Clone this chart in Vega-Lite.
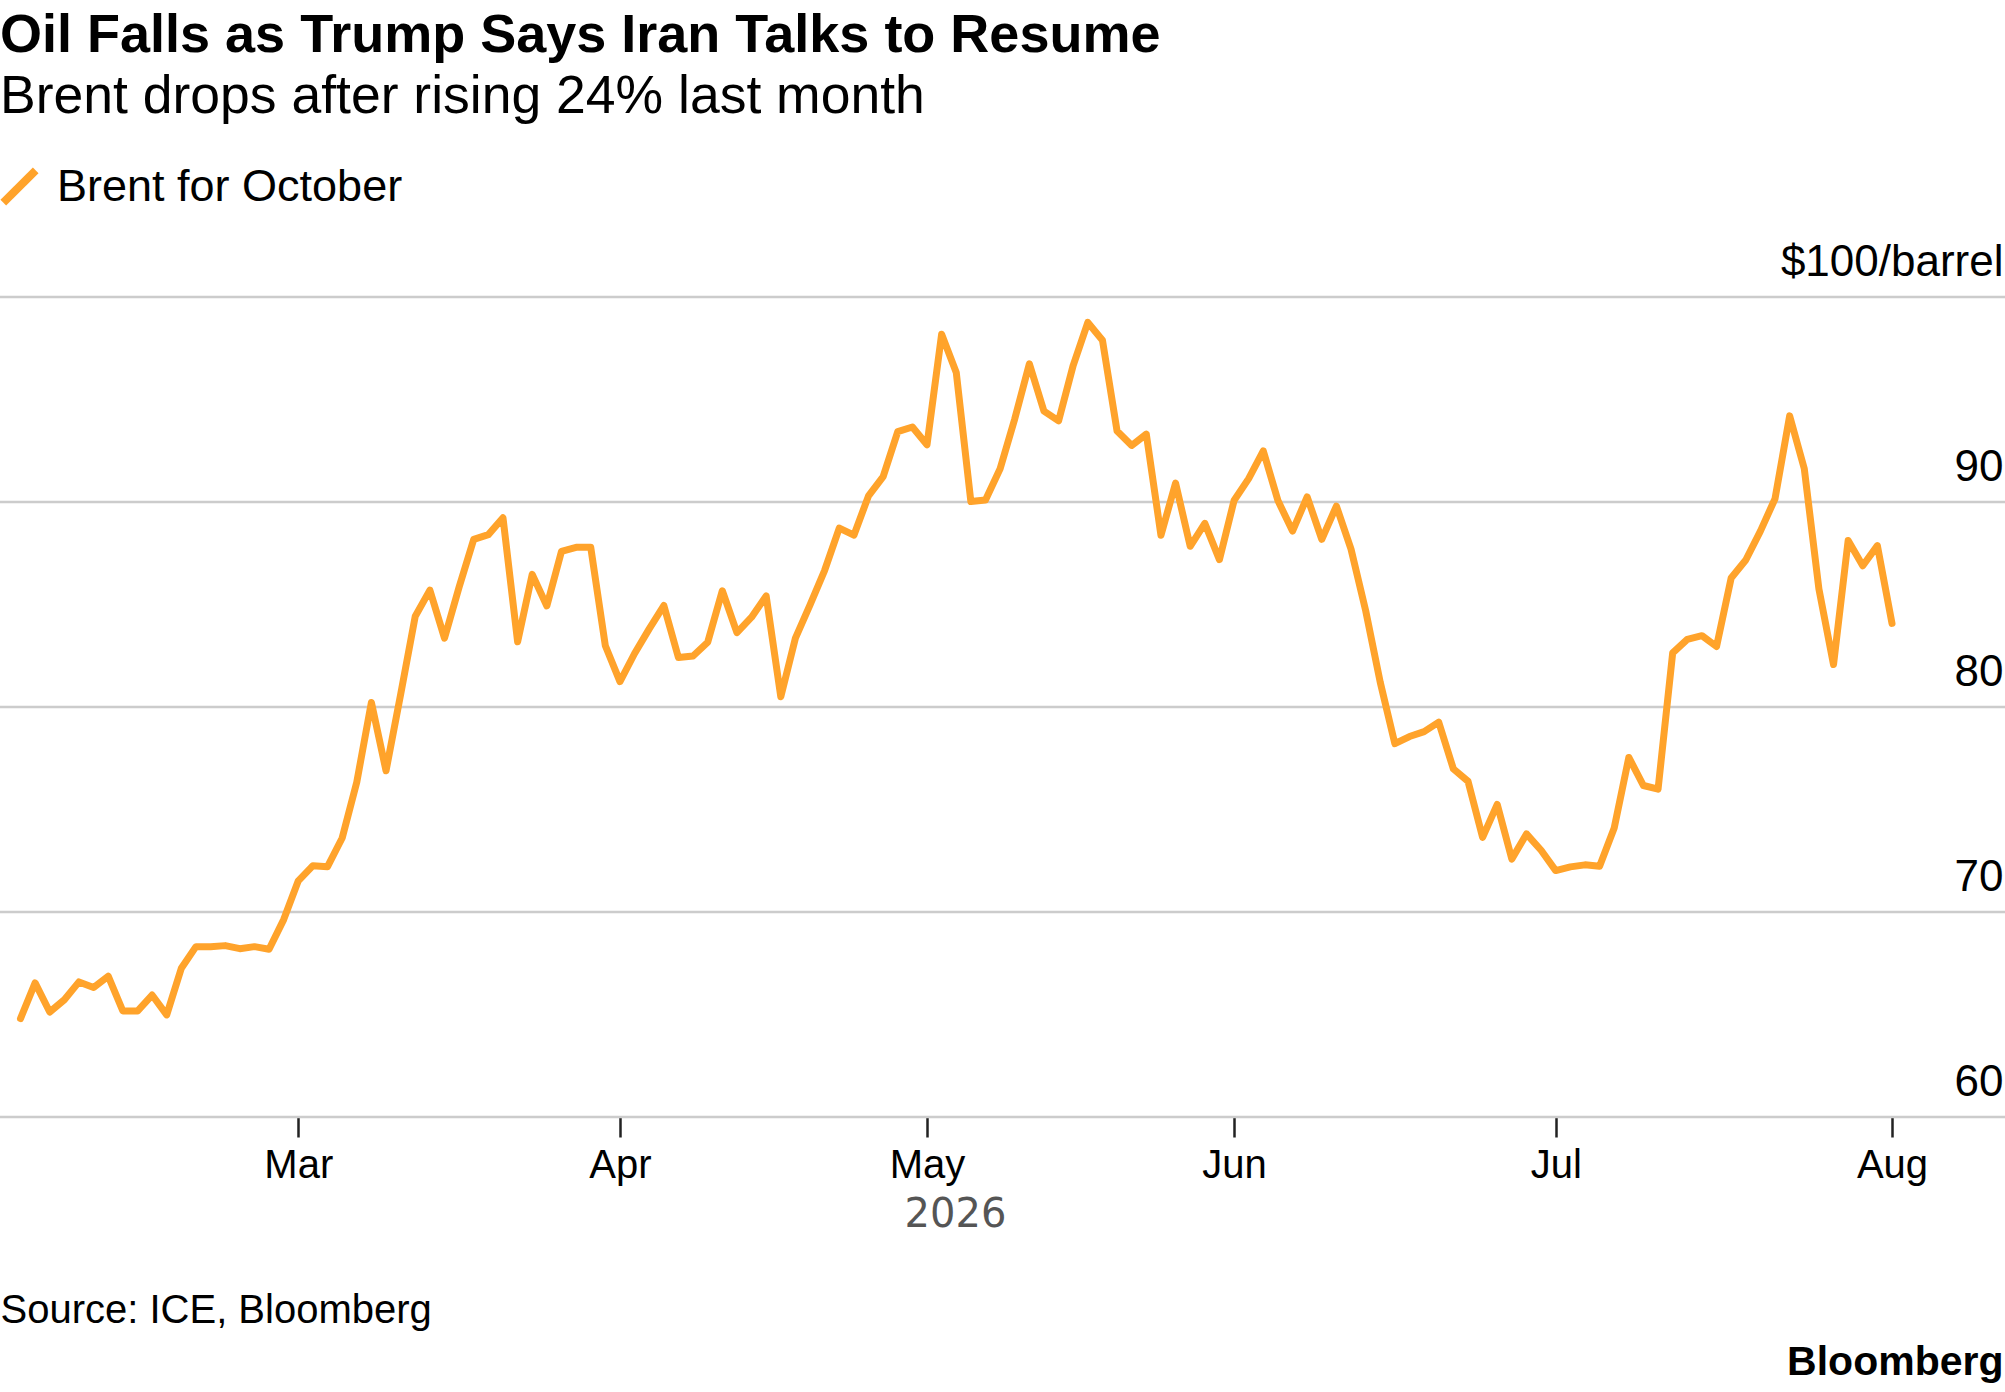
{
  "$schema": "https://vega.github.io/schema/vega-lite/v6.json",
  "description": "Brent for October, daily settlement",
  "width": 2005,
  "height": 820,
  "autosize": "none",
  "padding": {"left": 0, "right": 0, "top": 297, "bottom": 275},
  "background": "white",
  "title": {
    "text": "Oil Falls as Trump Says Iran Talks to Resume",
    "subtitle": "Brent drops after rising 24% last month",
    "anchor": "start",
    "frame": "group",
    "offset": 41,
    "font": "Liberation Sans",
    "fontSize": 54,
    "fontWeight": "bold",
    "color": "#000000",
    "subtitleFont": "Liberation Sans",
    "subtitleFontSize": 53.5,
    "subtitleColor": "#000000",
    "subtitlePadding": 8,
    "limit": 0
  },
  "data": {
    "values": [
      {"date": "2026-02-03", "price": 64.8},
      {"date": "2026-02-04", "price": 66.54},
      {"date": "2026-02-05", "price": 65.12},
      {"date": "2026-02-06", "price": 65.72},
      {"date": "2026-02-09", "price": 66.59},
      {"date": "2026-02-10", "price": 66.32},
      {"date": "2026-02-11", "price": 66.87},
      {"date": "2026-02-12", "price": 65.17},
      {"date": "2026-02-13", "price": 65.17},
      {"date": "2026-02-16", "price": 65.95},
      {"date": "2026-02-17", "price": 64.98},
      {"date": "2026-02-18", "price": 67.26},
      {"date": "2026-02-19", "price": 68.31},
      {"date": "2026-02-20", "price": 68.31},
      {"date": "2026-02-23", "price": 68.36},
      {"date": "2026-02-24", "price": 68.21},
      {"date": "2026-02-25", "price": 68.31},
      {"date": "2026-02-26", "price": 68.18},
      {"date": "2026-02-27", "price": 69.63},
      {"date": "2026-03-02", "price": 71.52},
      {"date": "2026-03-03", "price": 72.26},
      {"date": "2026-03-04", "price": 72.21},
      {"date": "2026-03-05", "price": 73.61},
      {"date": "2026-03-06", "price": 76.34},
      {"date": "2026-03-09", "price": 80.22},
      {"date": "2026-03-10", "price": 76.89},
      {"date": "2026-03-11", "price": 80.62},
      {"date": "2026-03-12", "price": 84.43},
      {"date": "2026-03-13", "price": 85.7},
      {"date": "2026-03-16", "price": 83.36},
      {"date": "2026-03-17", "price": 85.85},
      {"date": "2026-03-18", "price": 88.18},
      {"date": "2026-03-19", "price": 88.41},
      {"date": "2026-03-20", "price": 89.23},
      {"date": "2026-03-23", "price": 83.18},
      {"date": "2026-03-24", "price": 86.47},
      {"date": "2026-03-25", "price": 84.93},
      {"date": "2026-03-26", "price": 87.59},
      {"date": "2026-03-27", "price": 87.79},
      {"date": "2026-03-30", "price": 87.79},
      {"date": "2026-03-31", "price": 82.99},
      {"date": "2026-04-01", "price": 81.24},
      {"date": "2026-04-02", "price": 82.61},
      {"date": "2026-04-06", "price": 83.81},
      {"date": "2026-04-07", "price": 84.95},
      {"date": "2026-04-08", "price": 82.41},
      {"date": "2026-04-09", "price": 82.49},
      {"date": "2026-04-10", "price": 83.16},
      {"date": "2026-04-13", "price": 85.67},
      {"date": "2026-04-14", "price": 83.63},
      {"date": "2026-04-15", "price": 84.38},
      {"date": "2026-04-16", "price": 85.42},
      {"date": "2026-04-17", "price": 80.5},
      {"date": "2026-04-20", "price": 83.36},
      {"date": "2026-04-21", "price": 84.98},
      {"date": "2026-04-22", "price": 86.67},
      {"date": "2026-04-23", "price": 88.73},
      {"date": "2026-04-24", "price": 88.38},
      {"date": "2026-04-27", "price": 90.3},
      {"date": "2026-04-28", "price": 91.24},
      {"date": "2026-04-29", "price": 93.43},
      {"date": "2026-04-30", "price": 93.66},
      {"date": "2026-05-01", "price": 92.79},
      {"date": "2026-05-04", "price": 98.18},
      {"date": "2026-05-05", "price": 96.32},
      {"date": "2026-05-06", "price": 90.02},
      {"date": "2026-05-07", "price": 90.1},
      {"date": "2026-05-08", "price": 91.62},
      {"date": "2026-05-11", "price": 94.05},
      {"date": "2026-05-12", "price": 96.74},
      {"date": "2026-05-13", "price": 94.43},
      {"date": "2026-05-14", "price": 93.96},
      {"date": "2026-05-15", "price": 96.67},
      {"date": "2026-05-18", "price": 98.76},
      {"date": "2026-05-19", "price": 97.89},
      {"date": "2026-05-20", "price": 93.46},
      {"date": "2026-05-21", "price": 92.76},
      {"date": "2026-05-22", "price": 93.31},
      {"date": "2026-05-25", "price": 88.38},
      {"date": "2026-05-26", "price": 90.92},
      {"date": "2026-05-27", "price": 87.84},
      {"date": "2026-05-28", "price": 88.96},
      {"date": "2026-05-29", "price": 87.19},
      {"date": "2026-06-01", "price": 90.07},
      {"date": "2026-06-02", "price": 91.14},
      {"date": "2026-06-03", "price": 92.49},
      {"date": "2026-06-04", "price": 90.07},
      {"date": "2026-06-05", "price": 88.58},
      {"date": "2026-06-08", "price": 90.25},
      {"date": "2026-06-09", "price": 88.18},
      {"date": "2026-06-10", "price": 89.8},
      {"date": "2026-06-11", "price": 87.7},
      {"date": "2026-06-12", "price": 84.71},
      {"date": "2026-06-15", "price": 81.2},
      {"date": "2026-06-16", "price": 78.21},
      {"date": "2026-06-17", "price": 78.56},
      {"date": "2026-06-18", "price": 78.8},
      {"date": "2026-06-19", "price": 79.26},
      {"date": "2026-06-22", "price": 76.98},
      {"date": "2026-06-23", "price": 76.38},
      {"date": "2026-06-24", "price": 73.64},
      {"date": "2026-06-25", "price": 75.25},
      {"date": "2026-06-26", "price": 72.58},
      {"date": "2026-06-29", "price": 73.81},
      {"date": "2026-06-30", "price": 73.01},
      {"date": "2026-07-01", "price": 72.02},
      {"date": "2026-07-02", "price": 72.2},
      {"date": "2026-07-03", "price": 72.3},
      {"date": "2026-07-06", "price": 72.23},
      {"date": "2026-07-07", "price": 74.1},
      {"date": "2026-07-08", "price": 77.54},
      {"date": "2026-07-09", "price": 76.17},
      {"date": "2026-07-10", "price": 75.99},
      {"date": "2026-07-13", "price": 82.64},
      {"date": "2026-07-14", "price": 83.3},
      {"date": "2026-07-15", "price": 83.48},
      {"date": "2026-07-16", "price": 82.95},
      {"date": "2026-07-17", "price": 86.29},
      {"date": "2026-07-20", "price": 87.17},
      {"date": "2026-07-21", "price": 88.58},
      {"date": "2026-07-22", "price": 90.16},
      {"date": "2026-07-23", "price": 94.2},
      {"date": "2026-07-24", "price": 91.63},
      {"date": "2026-07-27", "price": 85.76},
      {"date": "2026-07-28", "price": 82.07},
      {"date": "2026-07-29", "price": 88.12},
      {"date": "2026-07-30", "price": 86.89},
      {"date": "2026-07-31", "price": 87.87},
      {"date": "2026-08-03", "price": 84.08}
    ]
  },
  "layer": [
    {
      "data": {"values": [{"level": 60}, {"level": 70}, {"level": 80}, {"level": 90}, {"level": 100}]},
      "mark": {"type": "rule", "color": "#cccccc", "strokeWidth": 2.5},
      "encoding": {
        "y": {
          "field": "level",
          "type": "quantitative",
          "scale": {"domain": [60, 100]},
          "axis": {
            "orient": "left",
            "values": [],
            "grid": false,
            "ticks": false,
            "labels": false,
            "domain": false,
            "title": "Source: ICE, Bloomberg",
            "titleFont": "Liberation Sans",
            "titleFontSize": 40,
            "titleFontWeight": "normal",
            "titleColor": "#000000",
            "titleAngle": 0,
            "titleAlign": "left",
            "titleBaseline": "middle",
            "titleX": 0,
            "titleY": 1013
          }
        }
      }
    },
    {
      "mark": {"type": "line", "strokeWidth": 7, "strokeJoin": "round", "strokeCap": "round"},
      "encoding": {
        "x": {
          "field": "date",
          "type": "ordinal",
          "scale": {"type": "point", "padding": 0, "range": [20.5, 1892]},
          "axis": {
            "values": ["2026-03-02", "2026-04-01", "2026-05-01", "2026-06-01", "2026-07-01", "2026-08-03"],
            "labelExpr": "timeFormat(toDate(datum.value + 'T12:00:00'), '%b')",
            "labelAngle": 0,
            "labelAlign": "center",
            "labelBaseline": "top",
            "labelFont": "Liberation Sans",
            "labelFontSize": 40,
            "labelColor": "#000000",
            "labelPadding": 8,
            "labelOverlap": false,
            "grid": false,
            "domain": false,
            "ticks": true,
            "tickColor": "#222222",
            "tickWidth": 2.5,
            "tickSize": 20,
            "title": "2026",
            "titleFont": "DejaVu Sans",
            "titleFontSize": 40,
            "titleFontWeight": "normal",
            "titleColor": "#555555",
            "titleX": 955,
            "titleY": 97,
            "titleAnchor": "middle",
            "titleBaseline": "middle"
          }
        },
        "y": {
          "field": "price",
          "type": "quantitative",
          "scale": {"domain": [60, 100]},
          "axis": {
            "orient": "right",
            "values": [60, 70, 80, 90, 100],
            "labelExpr": "datum.value === 100 ? '$100/barrel' : datum.label",
            "labelAlign": "right",
            "labelBaseline": "middle",
            "labelOffset": -35,
            "labelPadding": -2,
            "labelLimit": 400,
            "labelFont": "Liberation Sans",
            "labelFontSize": 44,
            "labelColor": "#000000",
            "labelBound": false,
            "labelOverlap": false,
            "ticks": false,
            "domain": false,
            "grid": false,
            "title": "Bloomberg",
            "titleFont": "Liberation Sans",
            "titleFontSize": 41,
            "titleFontWeight": "bold",
            "titleColor": "#000000",
            "titleAngle": 0,
            "titleAlign": "right",
            "titleBaseline": "middle",
            "titleX": -2,
            "titleY": 1065
          }
        },
        "color": {
          "datum": "Brent for October",
          "type": "nominal",
          "scale": {"range": ["#ffa32b"]},
          "legend": {
            "orient": "none",
            "legendX": -3,
            "legendY": -133,
            "title": null,
            "symbolType": "M-1,1L1,-1",
            "symbolSize": 1050,
            "symbolStrokeWidth": 8,
            "labelFont": "Liberation Sans",
            "labelFontSize": 45,
            "labelColor": "#000000",
            "labelOffset": 15,
            "labelLimit": 0
          }
        }
      }
    }
  ],
  "resolve": {"axis": {"y": "independent"}},
  "config": {"view": {"stroke": null}}
}
